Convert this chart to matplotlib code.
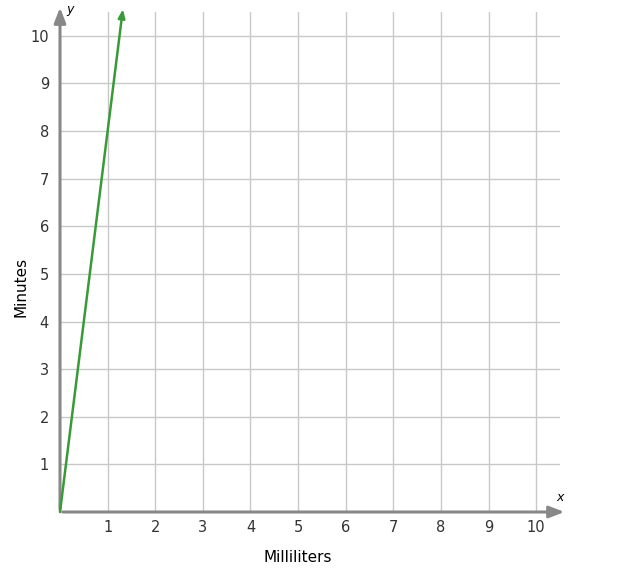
import matplotlib.pyplot as plt

x_ticks = [1, 2, 3, 4, 5, 6, 7, 8, 9, 10]
y_ticks = [1, 2, 3, 4, 5, 6, 7, 8, 9, 10]
line_x = [0, 1.32]
line_y = [0, 10.56]

fig = plt.figure(figsize=(6.3, 5.76), dpi=100)
ax = fig.add_axes([60 / 630, 64 / 576, 500 / 630, 500 / 576])
ax.set_xlim(0, 10.5)
ax.set_ylim(0, 10.5)

for v in x_ticks:
    ax.plot([v, v], [0, 10.5], color='#c8c8c8', lw=1, zorder=1)
for v in y_ticks:
    ax.plot([0, 10.5], [v, v], color='#c8c8c8', lw=1, zorder=1)

for s in ax.spines.values():
    s.set_visible(False)

# axes with arrow heads
ax.annotate('', xy=(10.65, 0), xytext=(0, 0),
            arrowprops=dict(arrowstyle='-|>,head_length=0.9,head_width=0.35', color='#888888', lw=2.2),
            annotation_clip=False, zorder=3)
ax.annotate('', xy=(0, 10.65), xytext=(0, 0),
            arrowprops=dict(arrowstyle='-|>,head_length=0.9,head_width=0.35', color='#888888', lw=2.2),
            annotation_clip=False, zorder=3)

ax.annotate('', xy=(line_x[1], line_y[1]), xytext=(line_x[0], line_y[0]),
            arrowprops=dict(arrowstyle='-|>,head_length=0.5,head_width=0.2', color='#3a9a3a', lw=1.8,
                            shrinkA=0, shrinkB=0),
            annotation_clip=False, zorder=4)

ax.set_xticks(x_ticks)
ax.set_yticks(y_ticks)
ax.tick_params(length=0, labelsize=10.5, labelcolor='#333333', pad=6)
ax.tick_params(axis='y', pad=8)

ax.text(0.22, 10.55, 'y', style='italic', fontsize=9, ha='center', va='center')
ax.text(10.5, 0.3, 'x', style='italic', fontsize=9, ha='center', va='center')

fig.text(298 / 630, 1 - 558 / 576, 'Milliliters', fontsize=11, ha='center', va='center')
fig.text(21 / 630, 1 - 287 / 576, 'Minutes', fontsize=11, ha='center', va='center', rotation=90)

fig.savefig('out.png', dpi=100)
